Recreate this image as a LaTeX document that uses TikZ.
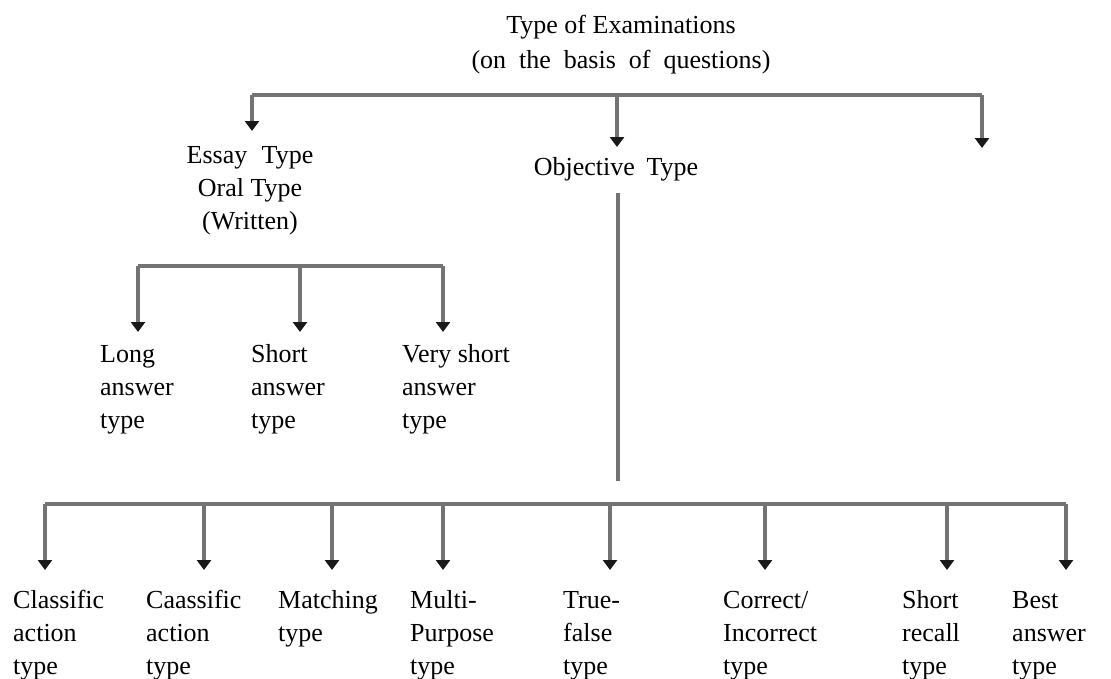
\documentclass[tikz,border=0pt]{standalone}
\usepackage{fontspec}
\setmainfont{Liberation Serif}
\usetikzlibrary{arrows.meta}
\begin{document}
\begin{tikzpicture}[x=1pt,y=-1pt,
  lbl/.style={anchor=north west, inner sep=0pt, align=left, font=\fontsize{26}{33}\selectfont},
  clbl/.style={anchor=north, inner sep=0pt, align=center, font=\fontsize{26}{33}\selectfont},
  bus/.style={draw=black!55, line width=4.5pt},
  arr/.style={bus, -{Triangle[width=14pt,length=10pt,color=black!90]}}]
\useasboundingbox (0,0) rectangle (1111,678);
% texts
\node[clbl] (title) at (621,10) {\strut Type of Examinations\\[2pt](on\hspace{0.25em} the\hspace{0.25em} basis\hspace{0.25em} of\hspace{0.25em} questions)};
\node[clbl] (essay) at (250,140) {\strut Essay\hspace{0.3em} Type\\Oral Type\\(Written)};
\node[clbl] (obj) at (616,152) {\strut Objective\hspace{0.2em} Type};
\node[lbl] (long) at (100,339) {\strut Long\\answer\\type};
\node[lbl] (short) at (251,339) {\strut Short\\answer\\type};
\node[lbl] (vshort) at (402,339) {\strut Very short\\answer\\type};
\node[lbl] (b1) at (13,585) {\strut Classific\\action\\type};
\node[lbl] (b2) at (146,585) {\strut Caassific\\action\\type};
\node[lbl] (b3) at (278,585) {\strut Matching\\type};
\node[lbl] (b4) at (410,585) {\strut Multi-\\Purpose\\type};
\node[lbl] (b5) at (563,585) {\strut True-\\false\\type};
\node[lbl] (b6) at (723,585) {\strut Correct/\\Incorrect\\type};
\node[lbl] (b7) at (902,585) {\strut Short\\recall\\type};
\node[lbl] (b8) at (1012,585) {\strut Best\\answer\\type};
% top level
\coordinate (tL) at (252,95);
\coordinate (tM) at (617,95);
\coordinate (tR) at (982,95);
\coordinate (tLa) at (252,131);
\coordinate (tMa) at (617,147);
\coordinate (tRa) at (982,148);
\draw[bus] (tL) -- (tR);
\draw[arr] (tL) -- (tLa);
\draw[arr] (tM) -- (tMa);
\draw[arr] (tR) -- (tRa);
% objective stem
\coordinate (o1) at (618,193);
\coordinate (o2) at (618,481);
\draw[bus] (o1) -- (o2);
% middle level
\coordinate (m1) at (138,266);
\coordinate (m2) at (300,266);
\coordinate (m3) at (443,266);
\coordinate (ma1) at (138,332);
\coordinate (ma2) at (300,332);
\coordinate (ma3) at (443,332);
\draw[bus] (m1) -- (m3);
\draw[arr] (m1) -- (ma1);
\draw[arr] (m2) -- (ma2);
\draw[arr] (m3) -- (ma3);
% bottom level
\coordinate (bL) at (45,504);
\coordinate (bR) at (1066,504);
\draw[bus] (bL) -- (bR);
\foreach \x [count=\i] in {45,204,332,443,610,765,947,1066} {
  \coordinate (bj\i) at (\x,504);
  \coordinate (ba\i) at (\x,570);
  \draw[arr] (bj\i) -- (ba\i);
}
\end{tikzpicture}
\end{document}
